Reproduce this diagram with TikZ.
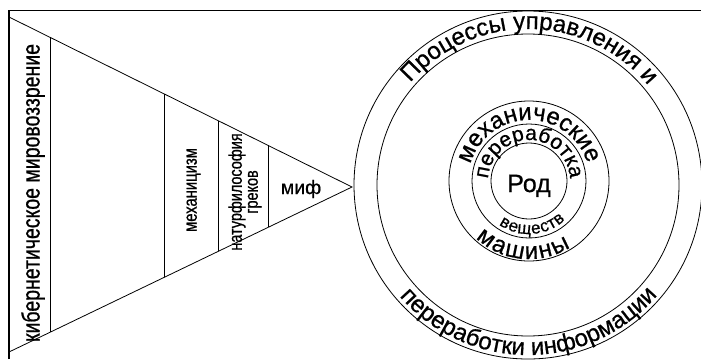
\documentclass[tikz,border=0pt]{standalone}
\usepackage{fontspec}
\setmainfont{Liberation Sans}[FakeBold=0.7]
\newfontfamily\narrowfont{Liberation Sans}[FakeStretch=0.78,FakeBold=0.7]
\usetikzlibrary{calc,decorations.text}

\tikzset{every picture/.style={line width=0.8pt}}
\tikzset{
  column label/.style={rotate=90, inner sep=0pt, align=center},
  ring text/.style={decorate, decoration={text along path, text align={fit to path}, text={#1}}},
}

\begin{document}
\begin{tikzpicture}[x=1pt,y=1pt,yscale=-1]
\useasboundingbox (0,0) rectangle (701,359);
\clip (0,0) rectangle (701,359);

% frame
\draw [line width=1.2pt] (9,359) -- (9,10.5) -- (701,10.5);

% triangle and its columns
\coordinate (tl) at (9,17);
\coordinate (bl) at (9,352);
\coordinate (apex) at (352,187);
\draw (tl) -- (apex) -- (bl);
\foreach \x in {50,164,218,268}
  \draw ($(tl)!{(\x-9)/343}!(apex)$) -- ($(bl)!{(\x-9)/343}!(apex)$);

\node [column label, font=\narrowfont\fontsize{25}{25}\selectfont] (worldview) at (33,193) {кибернетическое мировоззрение};
\node [column label, font=\narrowfont\fontsize{19}{19}\selectfont] (mechanism) at (193.5,190) {механицизм};
\node [column label, font=\narrowfont\fontsize{18.5}{16}\selectfont] (greeks) at (245,192) {натурфилософия\\греков};
\node [inner sep=0pt, font=\fontsize{19.5}{19.5}\selectfont] (myth) at (301,189) {миф};

% rings
\coordinate (big) at (528,185);
\coordinate (small) at (529,181);
\draw (big) circle [radius=174];
\draw (big) circle [radius=151];
\foreach \r in {38,57,80}
  \draw (small) circle [radius=\r];
\node [inner sep=0pt, anchor=base, font=\fontsize{25}{25}\selectfont] (genus) at (529,192) {Род};

% texts along the rings
\path [ring text={|\fontsize{24}{24}\selectfont|Процессы управления и}] ($(big)+(-139:156)$) arc [start angle=-139, end angle=-40.5, radius=156];
\path [ring text={|\fontsize{24}{24}\selectfont|переработки информации}] ($(big)+(139.1:170)$) arc [start angle=139.1, end angle=40.4, radius=170];
\path [ring text={|\fontsize{24}{24}\selectfont|механические}] ($(small)+(-164:61)$) arc [start angle=-164, end angle=-16.6, radius=61];
\path [ring text={|\fontsize{21}{21}\selectfont|переработка}] ($(small)+(-177:41)$) arc [start angle=-177, end angle=-3.3, radius=41];
\path [ring text={|\fontsize{17}{17}\selectfont|веществ}] ($(small)+(124.6:53)$) arc [start angle=124.6, end angle=47, radius=53];
\path [ring text={|\fontsize{24}{24}\selectfont|машины}] ($(small)+(133:78)$) arc [start angle=133, end angle=58, radius=78];

\end{tikzpicture}
\end{document}
